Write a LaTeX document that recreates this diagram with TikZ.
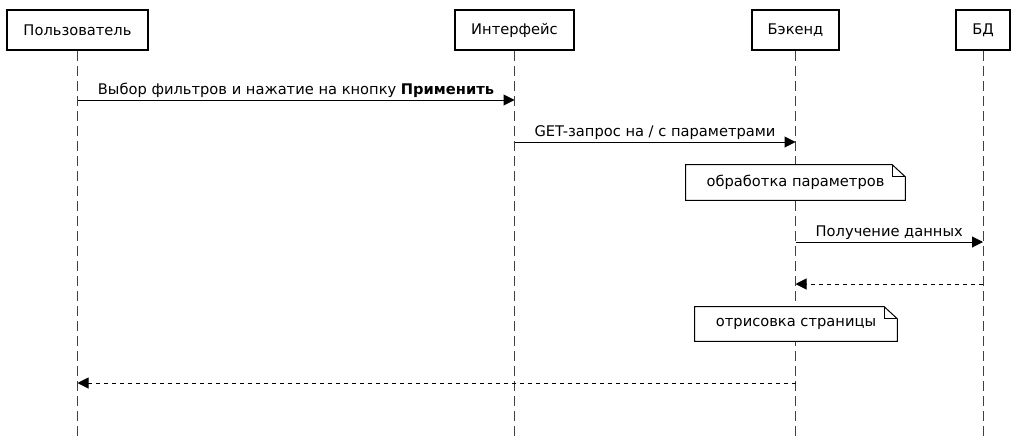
\documentclass[tikz,border=0pt]{standalone}
\usepackage{fontspec}
\setmainfont{DejaVu Sans}
\usetikzlibrary{positioning, arrows.meta, calc}

\def\pxu{0.75pt}

\begin{document}
\begin{tikzpicture}[
    x=\pxu, y=-\pxu,
    font=\fontsize{11pt}{13pt}\selectfont,
    actor/.style={draw, rectangle, line width=1.5pt, minimum height=40*\pxu,
                  inner sep=0pt, text centered},
    life/.style={line width=\pxu, black!75, dash pattern=on 7.5pt off 3.75pt},
    msg/.style={line width=\pxu, -{Triangle[length=8.25pt, width=8.25pt]}},
    reply/.style={msg, dash pattern=on 3pt off 3pt},
    lbl/.style={above, inner sep=1.5pt},
    notebox/.style={rectangle, inner sep=0pt, minimum height=35*\pxu},
]

\useasboundingbox (0,0) rectangle (1017,436);

% Participants
\node[actor, minimum width=141*\pxu] (user) at (77.5, 30) {Пользователь};
\node[actor, minimum width=119*\pxu] (ui)   at (514.5, 30) {Интерфейс};
\node[actor, minimum width=87*\pxu]  (back) at (795.5, 30) {Бэкенд};
\node[actor, minimum width=54*\pxu]  (db)   at (983, 30) {БД};

% Lifelines
\coordinate (bottom) at (0, 436);
\foreach \p in {user, ui, back, db} {
  \draw[life] (\p.south) -- (\p |- bottom);
}

% Message rows
\coordinate (r1) at (0, 100);
\coordinate (r2) at (0, 142);
\coordinate (r3) at (0, 242);
\coordinate (r4) at (0, 284);
\coordinate (r5) at (0, 383);

\draw[msg] (user |- r1) -- node[lbl] {Выбор фильтров и нажатие на кнопку \textbf{Применить}} (ui |- r1);
\draw[msg] (ui |- r2) -- node[lbl] {GET-запрос на / с параметрами} (back |- r2);
\draw[msg] (back |- r3) -- node[lbl] {Получение данных} (db |- r3);
\draw[reply] (db |- r4) -- (back |- r4);
\draw[reply] (back |- r5) -- (user |- r5);

% Notes
\node[notebox, minimum width=219*\pxu] (proc) at (795.5, 182.5) {};
\node[notebox, minimum width=202*\pxu, minimum height=34*\pxu] (render) at (796, 324) {};
\foreach \n in {proc, render} {
  \draw[line width=\pxu, fill=white] (\n.north west) -- ($(\n.north east)+(-13,0)$)
    -- ($(\n.north east)+(0,12)$) -- (\n.south east) -- (\n.south west) -- cycle;
  \draw[line width=\pxu] ($(\n.north east)+(-13,0)$) -- ($(\n.north east)+(-13,12)$)
    -- ($(\n.north east)+(0,12)$);
}
\node at (proc) {обработка параметров};
\node at (render) {отрисовка страницы};

\end{tikzpicture}
\end{document}
